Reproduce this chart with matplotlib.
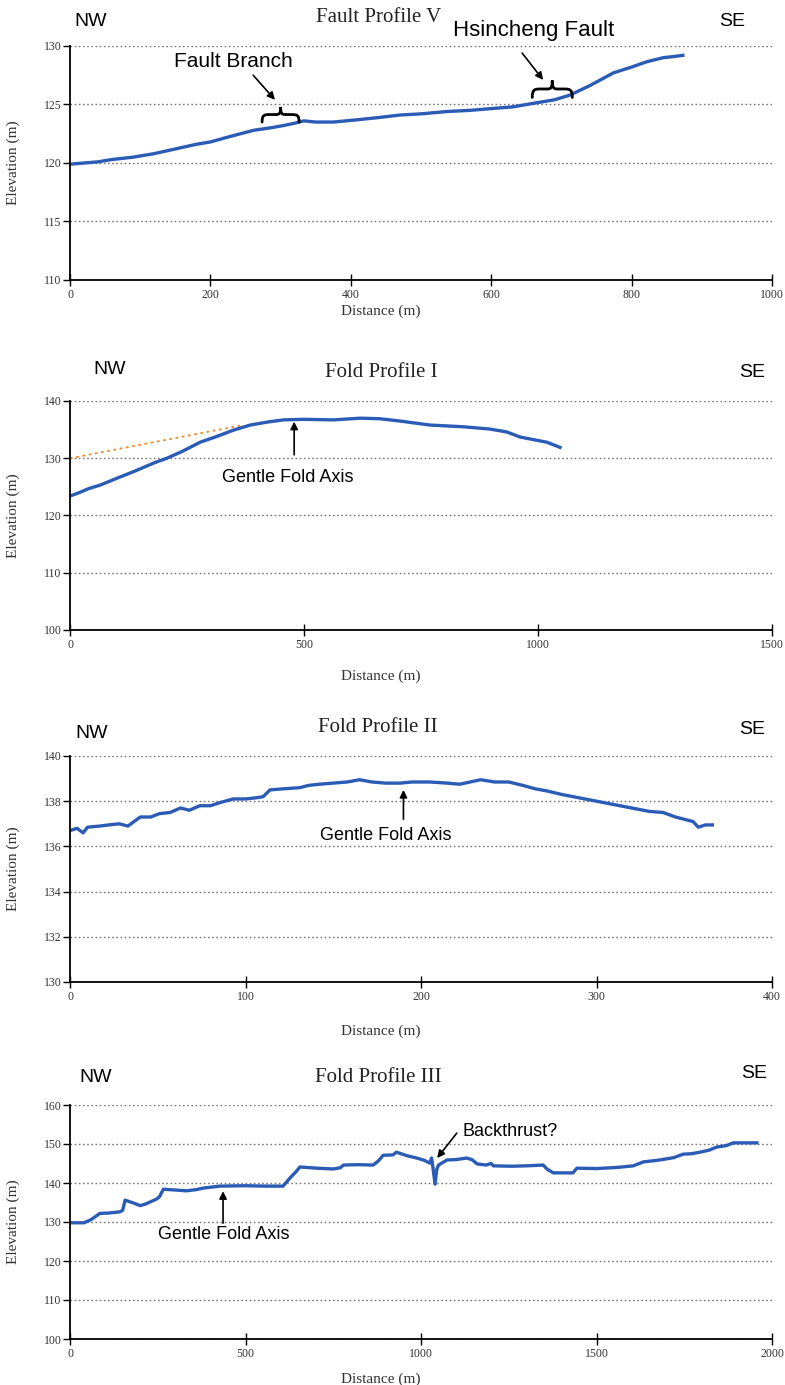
import matplotlib
matplotlib.use("Agg")
import matplotlib.pyplot as plt
from matplotlib.path import Path
from matplotlib.patches import PathPatch
from matplotlib.transforms import Affine2D

SERIF = ["Liberation Serif", "DejaVu Serif"]
SANS = ["Liberation Sans", "DejaVu Sans"]
BLUE = "#2b5cb5"
W, H = 785, 1385

# ---------- data ----------
fv_dist = [0, 20, 40, 60, 90, 120, 150, 180, 200, 230, 262, 285, 304, 320, 333, 350, 375, 410, 442,
           470, 500, 537, 570, 600, 631, 660, 690, 712, 740, 774, 800, 822, 845, 860, 873]
fv_elev = [119.9, 120.0, 120.1, 120.3, 120.5, 120.8, 121.2, 121.6, 121.8, 122.3, 122.8, 123.0, 123.2,
           123.4, 123.6, 123.5, 123.5, 123.7, 123.9, 124.1, 124.2, 124.4, 124.5, 124.65, 124.8, 125.1,
           125.4, 125.8, 126.6, 127.7, 128.2, 128.66, 129.0, 129.1, 129.2]

f1_dist = [0, 20, 40, 64, 100, 140, 180, 207, 240, 278, 310, 349, 385, 420, 456, 500, 563, 620, 662,
           705, 769, 840, 897, 933, 962, 1019, 1047]
f1_elev = [123.4, 124.0, 124.7, 125.3, 126.5, 127.8, 129.2, 130.0, 131.2, 132.8, 133.7, 134.9, 135.8,
           136.3, 136.7, 136.8, 136.7, 137.0, 136.9, 136.5, 135.8, 135.5, 135.1, 134.6, 133.7, 132.8, 131.9]
f1_trend_dist = [0, 370]
f1_trend_elev = [130.0, 135.8]

f2_dist = [0, 4, 7.5, 10, 17, 22, 28, 33, 40, 46, 51, 57, 63, 68, 74, 80, 86, 93, 100, 106, 110, 114,
           122, 131, 136, 142, 150, 158, 165, 172, 180, 188, 195, 205, 215, 222, 228, 234, 242, 250,
           258, 265, 272, 280, 290, 300, 310, 320, 330, 338, 345, 350, 355, 358, 362, 366]
f2_elev = [136.7, 136.8, 136.6, 136.85, 136.9, 136.95, 137.0, 136.9, 137.3, 137.3, 137.45, 137.5, 137.7,
           137.6, 137.8, 137.8, 137.95, 138.1, 138.1, 138.15, 138.2, 138.5, 138.55, 138.6, 138.7, 138.75,
           138.8, 138.85, 138.95, 138.85, 138.8, 138.8, 138.85, 138.85, 138.8, 138.75, 138.85, 138.95,
           138.85, 138.85, 138.7, 138.55, 138.45, 138.3, 138.15, 138.0, 137.85, 137.7, 137.55, 137.5,
           137.3, 137.2, 137.1, 136.85, 136.95, 136.95]

f3_dist = [0, 40, 60, 85, 110, 142, 150, 157, 180, 200, 215, 230, 247, 255, 266, 300, 332, 360, 380,
           427, 500, 560, 607, 627, 645, 655, 703, 750, 770, 779, 820, 864, 880, 892, 920, 930, 940,
           960, 988, 1010, 1025, 1030, 1034, 1040, 1045, 1050, 1074, 1100, 1130, 1145, 1160, 1185,
           1200, 1206, 1260, 1300, 1348, 1360, 1377, 1433, 1444, 1500, 1560, 1605, 1633, 1680, 1720,
           1747, 1770, 1795, 1820, 1842, 1870, 1890, 1957]
f3_elev = [129.8, 129.8, 130.6, 132.2, 132.3, 132.6, 133.0, 135.6, 134.9, 134.2, 134.6, 135.2, 135.9,
           136.5, 138.4, 138.2, 138.0, 138.3, 138.7, 139.2, 139.3, 139.2, 139.2, 141.3, 143.0, 144.1,
           143.8, 143.6, 143.9, 144.6, 144.7, 144.6, 145.8, 147.1, 147.2, 147.9, 147.6, 147.0, 146.4,
           145.8, 145.1, 146.4, 144.0, 139.7, 143.5, 144.6, 145.9, 146.0, 146.4, 146.0, 144.9, 144.6,
           145.0, 144.4, 144.3, 144.4, 144.6, 143.5, 142.6, 142.6, 143.8, 143.7, 144.0, 144.4, 145.4,
           145.9, 146.5, 147.4, 147.5, 147.9, 148.4, 149.2, 149.6, 150.3, 150.3]

titles = ["Fault Profile V", "Fold Profile I", "Fold Profile II", "Fold Profile III"]
xlims = [1000, 1500, 400, 2000]
xticks = [[0, 200, 400, 600, 800, 1000], [0, 500, 1000, 1500], [0, 100, 200, 300, 400],
          [0, 500, 1000, 1500, 2000]]
ylims = [(110, 130), (100, 140), (130, 140), (100, 160)]
yticks = [[110, 115, 120, 125, 130], [100, 110, 120, 130, 140], [130, 132, 134, 136, 138, 140],
          [100, 110, 120, 130, 140, 150, 160]]

# pixel boxes (top, bottom) of each axes, and text anchors
boxes = [(46, 280), (401, 630), (756, 982), (1105, 1339)]
title_xy = [(379, 17), (381, 372), (378, 727), (378, 1077)]
nw_xy = [(91, 22), (110, 369), (92, 733), (96, 1077)]
se_xy = [(732, 22), (752, 372), (752, 729), (754, 1073)]
xlab_y = [305, 670, 1025, 1373]


def fx(x):
    return x / W


def fy(y):
    return 1 - y / H


# horizontal curly brace, ends down, cusp up; unit box x -1..1, y 0..1
BRACE = Path([(-1, 0), (-1, 0.45), (-0.9, 0.5), (-0.6, 0.5), (-0.25, 0.5),
              (-0.05, 0.5), (0, 0.6), (0, 1.0),
              (0, 0.6), (0.05, 0.5), (0.25, 0.5), (0.6, 0.5),
              (0.9, 0.5), (1, 0.45), (1, 0)],
             [Path.MOVETO, Path.CURVE4, Path.CURVE4, Path.CURVE4, Path.LINETO,
              Path.CURVE4, Path.CURVE4, Path.CURVE4,
              Path.CURVE4, Path.CURVE4, Path.CURVE4, Path.LINETO,
              Path.CURVE4, Path.CURVE4, Path.CURVE4])


def brace(ax, x, y, w_px, h_px):
    cx, cy = ax.transData.transform((x, y))
    tr = Affine2D().scale(w_px / 2, h_px).translate(cx, cy)
    fig.add_artist(PathPatch(BRACE, transform=tr, fill=False, lw=2.0, ec="black", capstyle="round"))


fig = plt.figure(figsize=(W / 100, H / 100), dpi=100)
axes = []
for i in range(4):
    top, bot = boxes[i]
    ax = fig.add_axes([fx(70), fy(bot), (772 - 70) / W, (bot - top) / H])
    ax.set_xlim(0, xlims[i]); ax.set_ylim(*ylims[i])
    ax.set_xticks(xticks[i]); ax.set_yticks(yticks[i])
    for s in ("top", "right"):
        ax.spines[s].set_visible(False)
    for s in ("left", "bottom"):
        ax.spines[s].set_linewidth(1.3)
    ax.yaxis.grid(True, ls=(0, (1.2, 1.8)), color="#777777", lw=1.0)
    ax.set_axisbelow(True)
    ax.tick_params(axis="x", direction="inout", length=9, width=1, labelsize=8.5, pad=2)
    ax.tick_params(axis="y", direction="out", length=5, width=1, labelsize=8.5, pad=1)
    for lab in ax.get_xticklabels() + ax.get_yticklabels():
        lab.set_family(SERIF)
        lab.set_color("#333333")
    ax.set_ylabel("Elevation (m)", family=SERIF, fontsize=11, color="#333333")
    ax.yaxis.set_label_coords(-0.071, 0.5)
    ax.set_xlabel("Distance (m)", family=SERIF, fontsize=11, color="#333333")
    ax.xaxis.set_label_coords(0.443, -(xlab_y[i] - bot) / (bot - top))
    fig.text(fx(title_xy[i][0]), fy(title_xy[i][1]), titles[i], family=SERIF, fontsize=15,
             ha="center", va="center", color="#222222")
    fig.text(fx(nw_xy[i][0]), fy(nw_xy[i][1]), "NW", family=SANS, fontsize=14, ha="center", va="center")
    fig.text(fx(se_xy[i][0]), fy(se_xy[i][1]), "SE", family=SANS, fontsize=14, ha="center", va="center")
    axes.append(ax)

arrow = dict(arrowstyle="-|>", color="black", lw=1.2, mutation_scale=11, shrinkA=0, shrinkB=0)

# Fault Profile V
ax = axes[0]
ax.plot(fv_dist, fv_elev, color=BLUE, lw=2.4, solid_joinstyle="round")
ax.text(233, 128.7, "Fault Branch", family=SANS, fontsize=15, ha="center", va="center")
ax.annotate("", xy=(292, 125.4), xytext=(261, 127.5), arrowprops=arrow)
brace(ax, 300, 123.5, 37, 15)
ax.text(661, 131.3, "Hsincheng Fault", family=SANS, fontsize=16, ha="center", va="center")
ax.annotate("", xy=(674, 127.1), xytext=(644, 129.4), arrowprops=arrow)
brace(ax, 687, 125.6, 40, 17)

# Fold Profile I
ax = axes[1]
ax.plot(f1_trend_dist, f1_trend_elev, color="#f08a2c", lw=1.3, ls=(0, (1.5, 2)))
ax.plot(f1_dist, f1_elev, color=BLUE, lw=2.4, solid_joinstyle="round")
ax.annotate("", xy=(479, 136.4), xytext=(479, 130.6), arrowprops=arrow)
ax.text(466, 126.7, "Gentle Fold Axis", family=SANS, fontsize=13, ha="center", va="center")

# Fold Profile II
ax = axes[2]
ax.plot(f2_dist, f2_elev, color=BLUE, lw=2.4, solid_joinstyle="round")
ax.annotate("", xy=(190, 138.5), xytext=(190, 137.2), arrowprops=arrow)
ax.text(180, 136.5, "Gentle Fold Axis", family=SANS, fontsize=13, ha="center", va="center")

# Fold Profile III
ax = axes[3]
ax.plot(f3_dist, f3_elev, color=BLUE, lw=2.4, solid_joinstyle="round")
ax.annotate("", xy=(436, 137.9), xytext=(436, 129.7), arrowprops=arrow)
ax.text(439, 126.9, "Gentle Fold Axis", family=SANS, fontsize=13, ha="center", va="center")
ax.annotate("", xy=(1046, 146.4), xytext=(1102, 152.8), arrowprops=arrow)
ax.text(1119, 153.1, "Backthrust?", family=SANS, fontsize=13, ha="left", va="center")

fig.savefig("out.png", dpi=100)
